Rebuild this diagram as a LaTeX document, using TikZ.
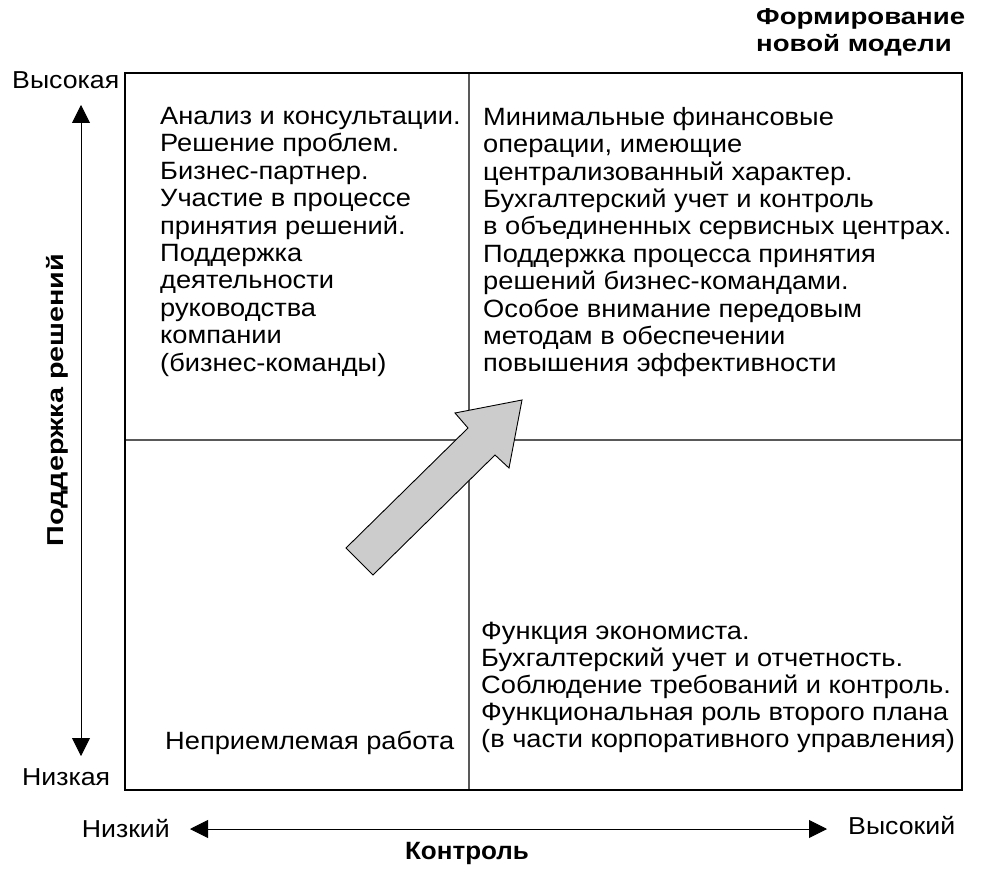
\documentclass[tikz,border=0pt]{standalone}
\usepackage{fontspec}
\setmainfont{Liberation Sans}
\newfontfamily\widefont[FakeStretch=1.09]{Liberation Sans}
\newfontfamily\boldwide[FakeStretch=1.2]{Liberation Sans Bold}
\newfontfamily\boldlabel[FakeStretch=1.25]{Liberation Sans Bold}
\newfontfamily\boldaxis[FakeStretch=1.04]{Liberation Sans Bold}
\usetikzlibrary{arrows.meta}
\tikzset{
  quadtext/.style={inner sep=0pt, align=left, anchor=north west, font=\widefont\fontsize{25}{27.4}\selectfont},
  lowtext/.style={inner sep=0pt, align=left, anchor=north west, font=\widefont\fontsize{25}{27}\selectfont},
  axislabel/.style={inner sep=0pt, font=\widefont\fontsize{24.5}{26}\selectfont},
  titletext/.style={inner sep=0pt, align=left, anchor=north west, font=\boldwide\fontsize{23}{27}\selectfont},
  frame/.style={line width=1.4pt, draw=black},
  divider/.style={line width=1.2pt, draw=black!65},
  axis/.style={line width=0.9pt, draw=black, {Triangle[length=18pt,width=18pt]}-{Triangle[length=18pt,width=18pt]}},
  bigarrow/.style={draw=black, line width=0.9pt, fill=black!20, line join=miter},
}
\begin{document}
\begin{tikzpicture}[x=1pt,y=-1pt]
\useasboundingbox[fill=white] (0,0) rectangle (984,874);
% frame and dividers
\coordinate (tl) at (125,73);
\coordinate (br) at (962,790);
\draw[divider] (469,73) coordinate (vtop) -- (469,790) coordinate (vbot);
\draw[divider] (125,440) coordinate (hleft) -- (962,440) coordinate (hright);
\draw[frame] (tl) rectangle (br);
% big arrow
\draw[bigarrow] (346,548) coordinate (a1) -- (468,428) -- (455,413) -- (522,400) coordinate (tip) -- (509,468) -- (495,455) -- (373,575) -- cycle;
% vertical axis
\coordinate (vup) at (81,105);
\coordinate (vdown) at (81,756);
\draw[axis] (vdown) -- (vup);
\node[axislabel, anchor=west] (high) at (12,80) {Высокая};
\node[axislabel, anchor=west] (low) at (22,777) {Низкая};
\node[inner sep=0pt, rotate=90, font=\boldlabel\fontsize{23}{26}\selectfont] (support) at (57,400) {Поддержка решений};
% horizontal axis
\coordinate (hl) at (190,829);
\coordinate (hr) at (827,829);
\draw[axis] (hl) -- (hr);
\node[axislabel, anchor=east] (lowc) at (170,829) {Низкий};
\node[axislabel, anchor=west] (highc) at (848,826) {Высокий};
\node[inner sep=0pt, font=\boldaxis\fontsize{25}{26}\selectfont] (control) at (467,853) {Контроль};
% title
\node[titletext] (title) at (756,8) {Формирование\\новой модели};
% quadrants
\node[quadtext] (qtl) at (160,107) {Анализ и консультации.\\Решение проблем.\\Бизнес-партнер.\\Участие в процессе\\принятия решений.\\Поддержка\\деятельности\\руководства\\компании\\(бизнес-команды)};
\node[quadtext] (qtr) at (483,107) {Минимальные финансовые\\операции, имеющие\\централизованный характер.\\Бухгалтерский учет и контроль\\в объединенных сервисных центрах.\\Поддержка процесса принятия\\решений бизнес-командами.\\Особое внимание передовым\\методам в обеспечении\\повышения эффективности};
\node[lowtext] (qbr) at (481,622) {Функция экономиста.\\Бухгалтерский учет и отчетность.\\Соблюдение требований и контроль.\\Функциональная роль второго плана\\(в части корпоративного управления)};
\node[lowtext, anchor=base west] (qbl) at (165,749) {Неприемлемая работа};
\end{tikzpicture}
\end{document}
